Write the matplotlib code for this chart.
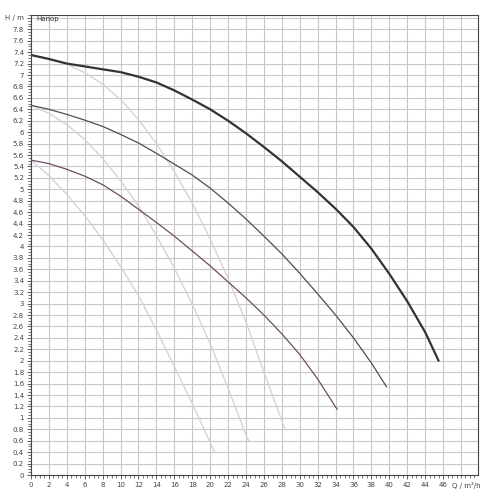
import matplotlib
matplotlib.use("Agg")
import matplotlib.pyplot as plt
from matplotlib.ticker import MultipleLocator

# Main pump curves (Q in m3/h, H in m)
q_max = [0, 2, 4, 6, 8, 10, 12, 14, 16, 18, 20, 22, 24, 26, 28, 30, 32, 34, 36, 38, 40, 42, 44, 45.5]
h_max = [7.35, 7.28, 7.2, 7.15, 7.1, 7.05, 6.97, 6.87, 6.73, 6.57, 6.4, 6.2, 5.98, 5.74,
         5.49, 5.22, 4.95, 4.66, 4.34, 3.96, 3.52, 3.04, 2.5, 2.0]

q_mid = [0, 2, 4, 6, 8, 10, 12, 14, 16, 18, 20, 22, 24, 26, 28, 30, 32, 34, 36, 38, 39.7]
h_mid = [6.47, 6.4, 6.31, 6.21, 6.1, 5.96, 5.81, 5.63, 5.44, 5.25, 5.02, 4.76, 4.48, 4.18,
         3.87, 3.53, 3.17, 2.8, 2.4, 1.96, 1.54]

q_min = [0, 2, 4, 6, 8, 10, 12, 14, 16, 18, 20, 22, 24, 26, 28, 30, 32, 34, 34.2]
h_min = [5.51, 5.45, 5.35, 5.23, 5.08, 4.88, 4.65, 4.42, 4.18, 3.92, 3.66, 3.38, 3.1, 2.8,
         2.47, 2.11, 1.68, 1.19, 1.15]

# Light auxiliary curves
q_la = [0, 2, 4, 6, 8, 10, 12, 14, 16, 18, 20, 22, 24, 26, 28, 28.3]
h_la = [7.35, 7.29, 7.19, 7.04, 6.84, 6.57, 6.22, 5.8, 5.31, 4.76, 4.13, 3.44, 2.68, 1.8, 0.95, 0.82]

q_lb = [0, 2, 4, 6, 8, 10, 12, 14, 16, 18, 20, 22, 24, 24.3]
h_lb = [6.47, 6.33, 6.13, 5.87, 5.54, 5.15, 4.71, 4.19, 3.62, 2.99, 2.3, 1.52, 0.7, 0.6]

q_lc = [0, 2, 4, 6, 8, 10, 12, 14, 16, 18, 20, 20.5]
h_lc = [5.51, 5.24, 4.91, 4.54, 4.12, 3.65, 3.14, 2.54, 1.9, 1.25, 0.57, 0.4]

x_ticks = list(range(0, 47, 2))
y_ticks = [round(i * 0.2, 1) for i in range(0, 40)]

fig = plt.figure(figsize=(5, 5), dpi=100)
ax = fig.add_axes([0.062, 0.05, 0.894, 0.92])

ax.set_xlim(0, 49.9)
ax.set_ylim(0, 8.05)

ax.xaxis.set_minor_locator(MultipleLocator(0.5))
ax.yaxis.set_minor_locator(MultipleLocator(0.05))

ax.set_xticks(x_ticks)
ax.set_xticklabels([str(v) for v in x_ticks])
yt = y_ticks + [8.0]
ax.set_yticks(yt)
ax.set_yticklabels([("%g" % v) for v in y_ticks] + ["H / m"])
ax.tick_params(axis="both", which="major", labelsize=5, colors="#444444",
               length=3, width=0.6, pad=2)
ax.tick_params(axis="both", which="minor", length=2, width=0.5, colors="#444444")
for s in ax.spines.values():
    s.set_color("#444444")
    s.set_linewidth(0.8)

ax.annotate("Q / m³/h", xy=(47.0, 0), xycoords=("data", "axes fraction"),
            xytext=(0, -5), textcoords="offset points",
            fontsize=5, color="#444444", ha="left", va="top")

for v in x_ticks[1:] + [48]:
    ax.axvline(v, color="#c8c8c8", linewidth=0.8, zorder=0)
for v in y_ticks[1:] + [8.0]:
    ax.axhline(v, color="#c8c8c8", linewidth=0.8, zorder=0)

light = "#dccfd8"
kw = dict(solid_joinstyle="round", solid_capstyle="round")
ax.plot(q_la, h_la, color=light, linewidth=1.0, **kw)
ax.plot(q_lb, h_lb, color=light, linewidth=1.0, **kw)
ax.plot(q_lc, h_lc, color=light, linewidth=1.0, **kw)

ax.plot(q_min, h_min, color="#6e4d66", linewidth=0.9, **kw)
ax.plot(q_mid, h_mid, color="#4d4d55", linewidth=0.9, **kw)
ax.plot(q_max, h_max, color="#333333", linewidth=1.6, **kw)

ax.text(0.6, 7.98, "Напор", fontsize=5, color="#333333", va="center", ha="left")

fig.savefig("out.png", dpi=100)
